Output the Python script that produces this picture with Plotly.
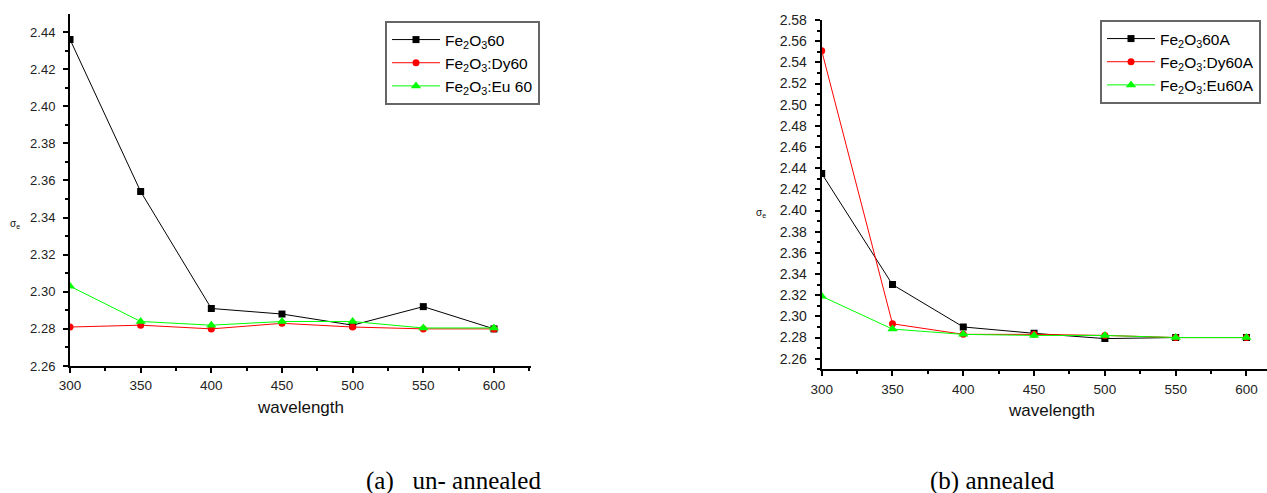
import plotly.graph_objects as go

# ---------------- data ----------------
wavelength = [300, 350, 400, 450, 500, 550, 600]

# (a) un-annealed
unann_fe2o3 = [2.436, 2.354, 2.291, 2.288, 2.282, 2.292, 2.280]
unann_dy = [2.281, 2.282, 2.280, 2.283, 2.281, 2.280, 2.280]
unann_eu = [2.303, 2.284, 2.282, 2.284, 2.284, 2.2805, 2.2805]

# (b) annealed
ann_fe2o3 = [2.435, 2.330, 2.290, 2.284, 2.279, 2.280, 2.280]
ann_dy = [2.551, 2.293, 2.283, 2.283, 2.282, 2.280, 2.280]
ann_eu = [2.319, 2.288, 2.283, 2.282, 2.282, 2.280, 2.280]

names_a = ["Fe<sub>2</sub>O<sub>3</sub>60", "Fe<sub>2</sub>O<sub>3</sub>:Dy60", "Fe<sub>2</sub>O<sub>3</sub>:Eu 60"]
names_b = ["Fe<sub>2</sub>O<sub>3</sub>60A", "Fe<sub>2</sub>O<sub>3</sub>:Dy60A", "Fe<sub>2</sub>O<sub>3</sub>:Eu60A"]

colors = ["#000000", "#ff0000", "#00ff00"]
symbols = ["square", "circle", "triangle-up"]
sizes = [7, 7, 9]

W, H = 1267, 493

fig = go.Figure()

for vals, nm, c, s, sz in zip([unann_fe2o3, unann_dy, unann_eu], names_a, colors, symbols, sizes):
    fig.add_trace(go.Scatter(x=wavelength, y=vals, name=nm, mode="lines+markers",
                             line=dict(color=c, width=1),
                             marker=dict(color=c, symbol=s, size=sz),
                             xaxis="x", yaxis="y", legend="legend"))

for vals, nm, c, s, sz in zip([ann_fe2o3, ann_dy, ann_eu], names_b, colors, symbols, sizes):
    fig.add_trace(go.Scatter(x=wavelength, y=vals, name=nm, mode="lines+markers",
                             line=dict(color=c, width=1),
                             marker=dict(color=c, symbol=s, size=sz),
                             xaxis="x2", yaxis="y2", legend="legend2"))

def tickfont(sz):
    return dict(family="Liberation Sans, Arial, sans-serif", size=sz, color="#222")

def xax(domain, rng, fs):
    return dict(domain=domain, range=rng, showline=True, linecolor="black", linewidth=2,
                ticks="outside", ticklen=5, tickwidth=1.5, tickcolor="black",
                tickvals=[300, 350, 400, 450, 500, 550, 600],
                minor=dict(dtick=25, tick0=0, ticks="outside", ticklen=3, tickwidth=1.5, tickcolor="black"),
                showgrid=False, zeroline=False, tickfont=tickfont(fs), mirror=False,
                ticklabelstandoff=1)

def yax(domain, rng, dtick, fs):
    return dict(domain=domain, range=rng, showline=True, linecolor="black", linewidth=2,
                ticks="outside", ticklen=5, tickwidth=1.5, tickcolor="black",
                dtick=dtick, tick0=0, tickformat=".2f",
                minor=dict(dtick=0.01, tick0=0, ticks="outside", ticklen=3, tickwidth=1.5, tickcolor="black"),
                showgrid=False, zeroline=False, tickfont=tickfont(fs), ticklabelstandoff=5)

xa = xax([70 / W, 530.7 / W], [300, 626], 13.5)
xa["anchor"] = "y"
ya = yax([(H - 366) / H, (H - 14) / H], [2.26, 2.4497], 0.02, 13)
ya["anchor"] = "x"

xb = xax([821.7 / W, 1.0], [300, 614.5], 13.5)
xb["anchor"] = "y2"
yb = yax([(H - 369.3) / H, (H - 20) / H], [2.25, 2.58], 0.02, 14)
yb["anchor"] = "x2"

legfont = dict(family="Liberation Sans, Arial, sans-serif", size=15.5, color="#000")

fig.update_layout(
    width=W, height=H,
    margin=dict(l=0, r=0, t=0, b=0, autoexpand=False),
    paper_bgcolor="white", plot_bgcolor="white",
    xaxis=xa, yaxis=ya, xaxis2=xb, yaxis2=yb,
    legend=dict(x=385 / W, y=(H - 21) / H, xanchor="left", yanchor="top",
                bgcolor="white", bordercolor="#666", borderwidth=2, font=legfont,
                itemwidth=48, tracegroupgap=0),
    legend2=dict(x=1100 / W, y=(H - 20) / H, xanchor="left", yanchor="top",
                 bgcolor="white", bordercolor="#666", borderwidth=2, font=legfont,
                 itemwidth=48, tracegroupgap=0),
    showlegend=True,
)

titlefont = dict(family="Liberation Sans, Arial, sans-serif", size=17, color="#111")
sigfont = dict(family="Liberation Sans, Arial, sans-serif", size=10, color="#111")
capfont = dict(family="Liberation Serif, Times New Roman, serif", size=25, color="#000")

fig.add_annotation(text="wavelength", x=300 / W, y=(H - 407) / H, xref="paper", yref="paper",
                   showarrow=False, font=titlefont, xanchor="center", yanchor="middle")
fig.add_annotation(text="wavelength", x=1051 / W, y=(H - 410) / H, xref="paper", yref="paper",
                   showarrow=False, font=titlefont, xanchor="center", yanchor="middle")
fig.add_annotation(text="σ<sub>e</sub>", x=15 / W, y=(H - 224) / H, xref="paper", yref="paper",
                   showarrow=False, font=sigfont, xanchor="center", yanchor="middle")
fig.add_annotation(text="σ<sub>e</sub>", x=761 / W, y=(H - 213) / H, xref="paper", yref="paper",
                   showarrow=False, font=sigfont, xanchor="center", yanchor="middle")
fig.add_annotation(text="(a)\u00a0\u00a0\u00a0un- annealed", x=453.5 / W, y=(H - 481) / H,
                   xref="paper", yref="paper", showarrow=False, font=capfont,
                   xanchor="center", yanchor="middle")
fig.add_annotation(text="(b) annealed", x=992 / W, y=(H - 481) / H,
                   xref="paper", yref="paper", showarrow=False, font=capfont,
                   xanchor="center", yanchor="middle")

fig.write_html("out.html")
